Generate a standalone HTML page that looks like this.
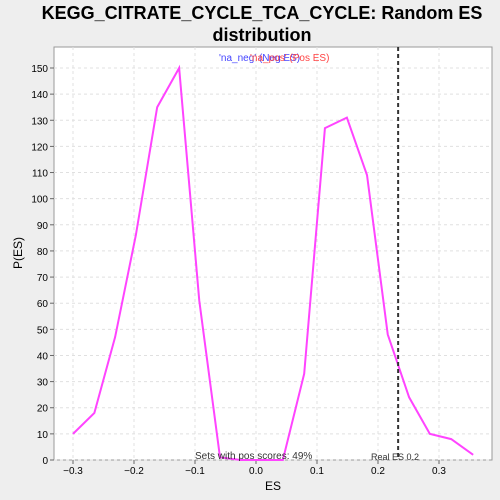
<!DOCTYPE html>
<html><head><meta charset="utf-8"><style>
body{margin:0;background:#eeeeee;font-family:"Liberation Sans",sans-serif;}
svg{display:block}
</style></head><body>
<svg width="500" height="500">
<rect x="0" y="0" width="500" height="500" fill="#eeeeee"/>
<text x="262" y="19" font-size="18" font-weight="bold" text-anchor="middle">KEGG_CITRATE_CYCLE_TCA_CYCLE: Random ES</text>
<text x="262" y="41" font-size="18" font-weight="bold" text-anchor="middle">distribution</text>
<rect x="54" y="47" width="438" height="413" fill="#fff" stroke="#999"/>
<g id="grid"></g><g id="axes"></g>
<polyline id="line" fill="none" stroke="#ff44ff" stroke-width="2"/>
<line id="real" stroke="#333" stroke-width="2" stroke-dasharray="4,3"/>
<text x="219" y="61" font-size="10" fill="#4444ff">'na_neg' (Neg ES)</text>
<text x="250" y="61" font-size="10" fill="#ff4444">'na_pos' (Pos ES)</text>
<text x="195" y="459" font-size="10" fill="#333">Sets with pos scores: 49%</text>
<text x="371" y="460" font-size="9" fill="#333">Real ES 0.2</text>
<text x="273" y="490" font-size="12" text-anchor="middle">ES</text>
<text x="22" y="253" font-size="12" text-anchor="middle" transform="rotate(-90 22 253)">P(ES)</text>
</svg>
<script>
const xs=[-0.3,-0.265,-0.231,-0.197,-0.162,-0.126,-0.093,-0.059,-0.025,0.01,0.044,0.079,0.113,0.149,0.182,0.216,0.251,0.285,0.320,0.356];
const ys=[10,18,47,86,135,150,61,1,0,0,0,33,127,131,109,48,24,10,8,2];
const xTicks=[-0.3,-0.2,-0.1,0.0,0.1,0.2,0.3];
const xTickLabels=["−0.3","−0.2","−0.1","0.0","0.1","0.2","0.3"];
const yTicks=[0,10,20,30,40,50,60,70,80,90,100,110,120,130,140,150];
const realES=0.233;
const X=v=>256+v*610, Y=v=>460-v*(392/150);
const ns="http://www.w3.org/2000/svg";
const g=document.getElementById('grid'), a=document.getElementById('axes');
function mk(p,t,at){const e=document.createElementNS(ns,t);for(const k in at)e.setAttribute(k,at[k]);p.appendChild(e);return e;}
yTicks.forEach(t=>{
 const l=mk(g,'line',{x1:54,x2:492,y1:Y(t),y2:Y(t),stroke:'#e0e0e0','stroke-dasharray':'3,3'});
 
 
 mk(a,'line',{x1:50,x2:54,y1:Y(t),y2:Y(t),stroke:'#666'});
 const tx=mk(a,'text',{x:48,y:Y(t)+4,'font-size':10,'text-anchor':'end'});tx.textContent=t;
 
 
});
xTicks.forEach((t,i)=>{
 const l=mk(g,'line',{x1:X(t),x2:X(t),y1:47,y2:460,stroke:'#e0e0e0','stroke-dasharray':'3,3'});
 
 
 mk(a,'line',{x1:X(t),x2:X(t),y1:460,y2:464,stroke:'#666'});
 const tx=mk(a,'text',{x:X(t),y:474,'font-size':10,'text-anchor':'middle'});tx.textContent=xTickLabels[i];
 
 
});
document.getElementById('line').setAttribute('points',xs.map((x,i)=>X(x)+','+Y(ys[i])).join(' '));
const r=document.getElementById('real');
r.setAttribute('x1',X(realES));r.setAttribute('x2',X(realES));r.setAttribute('y1',47);r.setAttribute('y2',460);
</script>
</body></html>
